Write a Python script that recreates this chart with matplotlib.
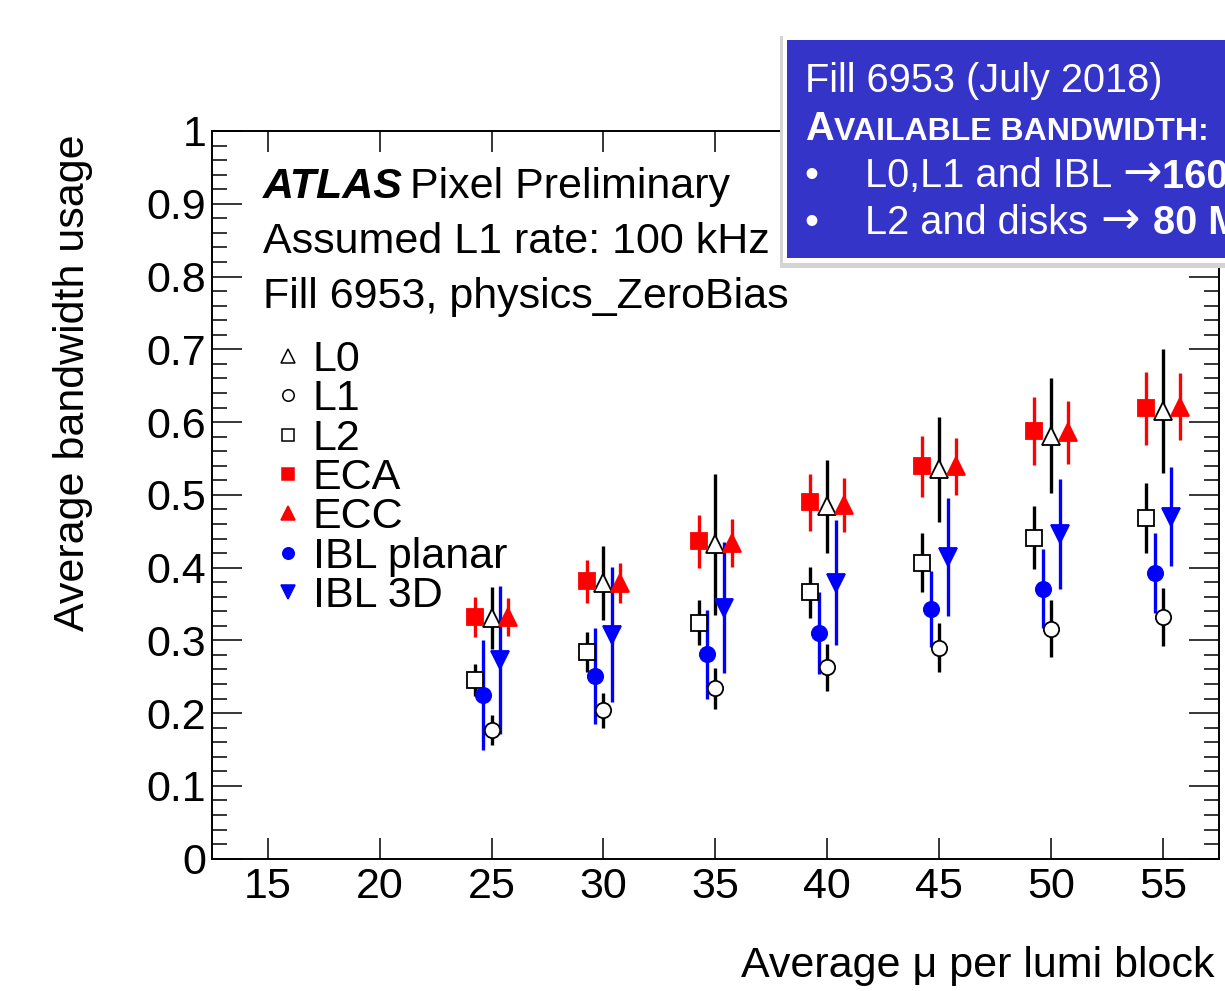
import matplotlib
matplotlib.use('Agg')
import matplotlib.pyplot as plt
from matplotlib.lines import Line2D
from matplotlib.patches import Rectangle
from matplotlib.ticker import MultipleLocator, FormatStrFormatter

plt.rcParams['font.family'] = ['Liberation Sans', 'DejaVu Sans']

# average mu per lumi block (group centres)
mu = [25, 30, 35, 40, 45, 50, 55]

# average bandwidth usage per layer, with error bars
l0 = [0.331, 0.379, 0.432, 0.484, 0.535, 0.581, 0.615]
l0_err = [0.043, 0.051, 0.097, 0.064, 0.072, 0.079, 0.085]
l1 = [0.177, 0.204, 0.234, 0.263, 0.290, 0.316, 0.332]
l1_err = [0.021, 0.024, 0.028, 0.032, 0.034, 0.039, 0.040]
l2 = [0.246, 0.284, 0.324, 0.366, 0.407, 0.441, 0.468]
l2_err = [0.022, 0.027, 0.031, 0.035, 0.040, 0.043, 0.048]
eca = [0.332, 0.381, 0.436, 0.490, 0.539, 0.588, 0.619]
eca_err = [0.027, 0.030, 0.036, 0.039, 0.042, 0.047, 0.050]
ecc = [0.332, 0.379, 0.434, 0.486, 0.539, 0.586, 0.621]
ecc_err = [0.026, 0.028, 0.033, 0.037, 0.039, 0.043, 0.046]
ibl_planar = [0.225, 0.251, 0.281, 0.310, 0.343, 0.371, 0.393]
ibl_planar_err = [0.076, 0.066, 0.061, 0.056, 0.052, 0.054, 0.055]
ibl_3d = [0.273, 0.308, 0.345, 0.379, 0.414, 0.446, 0.470]
ibl_3d_err = [0.102, 0.093, 0.090, 0.086, 0.081, 0.076, 0.068]

W, H = 1225, 991
FS = 31


def fx(x):
    return x / W


def fy(y):
    return 1 - y / H


fig = plt.figure(figsize=(W / 100, H / 100), dpi=100)
ax = fig.add_axes([fx(211.7), fy(858.7), (1219 - 211.7) / W, (858.7 - 131) / H])

# label, values, errors, x shift, marker, colour, face colour
series = [
    ('L0', l0, l0_err, 0.0, '^', 'black', 'white'),
    ('L1', l1, l1_err, 0.0, 'o', 'black', 'white'),
    ('L2', l2, l2_err, -0.75, 's', 'black', 'white'),
    ('ECA', eca, eca_err, -0.75, 's', 'red', 'red'),
    ('ECC', ecc, ecc_err, 0.75, '^', 'red', 'red'),
    ('IBL planar', ibl_planar, ibl_planar_err, -0.375, 'o', 'blue', 'blue'),
    ('IBL 3D', ibl_3d, ibl_3d_err, 0.375, 'v', 'blue', 'blue'),
]

handles = []
for label, vals, errs, shift, marker, col, face in series:
    xs = [m + shift for m in mu]
    ms = 12.5 if marker in '^v' else 11
    ax.errorbar(xs, vals, yerr=errs, fmt=marker, color=col, ecolor=col,
                mfc=face, mec=col, ms=ms, mew=1.3, elinewidth=2.4, capsize=0,
                zorder=3)
    handles.append(Line2D([], [], ls='none', marker=marker, color=col,
                          mfc=face, mec=col, ms=ms * 0.75, mew=1.1))

ax.set_xlim(12.5, 57.5)
ax.set_ylim(0, 1)
ax.xaxis.set_major_locator(MultipleLocator(5))
ax.yaxis.set_major_locator(MultipleLocator(0.1))
ax.yaxis.set_minor_locator(MultipleLocator(0.02))
ax.yaxis.set_major_formatter(FormatStrFormatter('%g'))

for s in ax.spines.values():
    s.set_linewidth(1.4)
ax.xaxis.set_tick_params(which='major', direction='in', top=True, length=15,
                         width=1.1, labelsize=FS, pad=6)
ax.yaxis.set_tick_params(which='major', direction='in', right=True, length=21.5,
                         width=1.1, labelsize=FS, pad=4)
ax.yaxis.set_tick_params(which='minor', direction='in', right=True, length=10.8,
                         width=1.1)

ax.set_xlabel('Average \u03bc per lumi block', fontsize=FS, loc='right')
ax.xaxis.set_label_coords(0.996, -0.12)
ax.set_ylabel('Average bandwidth usage', fontsize=FS, loc='top')
ax.yaxis.set_label_coords(-0.118, 0.995)

# ATLAS label
t = ax.text(0.051, 0.908, 'ATLAS', transform=ax.transAxes, fontsize=FS,
            fontweight='bold', fontstyle='italic', va='baseline')
ax.annotate('Pixel Preliminary', xy=(1, 0), xycoords=t, xytext=(5, 0),
            textcoords='offset points', fontsize=FS, va='bottom')
ax.text(0.051, 0.832, 'Assumed L1 rate: 100 kHz', transform=ax.transAxes,
        fontsize=FS, va='baseline')
ax.text(0.051, 0.757, 'Fill 6953, physics_ZeroBias', transform=ax.transAxes,
        fontsize=FS, va='baseline')

ax.legend(handles, [s[0] for s in series], loc='upper left',
          bbox_to_anchor=((275 - 211.7) / 1007.3, (858.7 - 340) / 727.7),
          frameon=False, fontsize=FS, borderpad=0, borderaxespad=0,
          handlelength=0.6, handletextpad=0.28, labelspacing=-0.015)

# blue info box
fig.add_artist(Rectangle((fx(780), fy(268)), 0.5, (268 - 36) / H,
                         transform=fig.transFigure, fc='#d4d4d4', ec='none',
                         zorder=5))
fig.add_artist(Rectangle((fx(783), fy(263)), 0.5, (263 - 33) / H,
                         transform=fig.transFigure, fc='white', ec='none',
                         zorder=5))
fig.add_artist(Rectangle((fx(787), fy(258)), 0.5, (258 - 40) / H,
                         transform=fig.transFigure, fc='#3434c8', ec='none',
                         zorder=6))

renderer = fig.canvas.get_renderer()


def text_after(prev, s, gap=0, **kw):
    bb = prev.get_window_extent(renderer=renderer)
    return fig.text((bb.x1 + gap) / W, prev.get_position()[1], s,
                    va='baseline', color='white', zorder=7, **kw)


box_kw = dict(color='white', va='baseline', zorder=7)
fig.text(fx(805), fy(92), 'Fill 6953 (July 2018)', fontsize=28.6, **box_kw)
a = fig.text(fx(805), fy(140), 'A', fontsize=28.6, fontweight='bold', **box_kw)
text_after(a, 'VAILABLE BANDWIDTH:', fontsize=23, fontweight='bold')
fig.text(fx(804), fy(187), '\u2022', fontsize=28.6, **box_kw)
b1 = fig.text(fx(865), fy(187), 'L0,L1 and IBL', fontsize=28.6, **box_kw)
arr1 = text_after(b1, '\u2192', gap=10, fontsize=34, family=['DejaVu Sans'])
text_after(arr1, '160 Mb/s', gap=0, fontsize=28.6, fontweight='bold')
fig.text(fx(804), fy(234), '\u2022', fontsize=28.6, **box_kw)
b2 = fig.text(fx(865), fy(234), 'L2 and disks', fontsize=28.6, **box_kw)
arr2 = text_after(b2, '\u2192', gap=12, fontsize=34, family=['DejaVu Sans'])
text_after(arr2, '80 Mb/s', gap=13, fontsize=28.6, fontweight='bold')

fig.savefig('out.png', dpi=100)
